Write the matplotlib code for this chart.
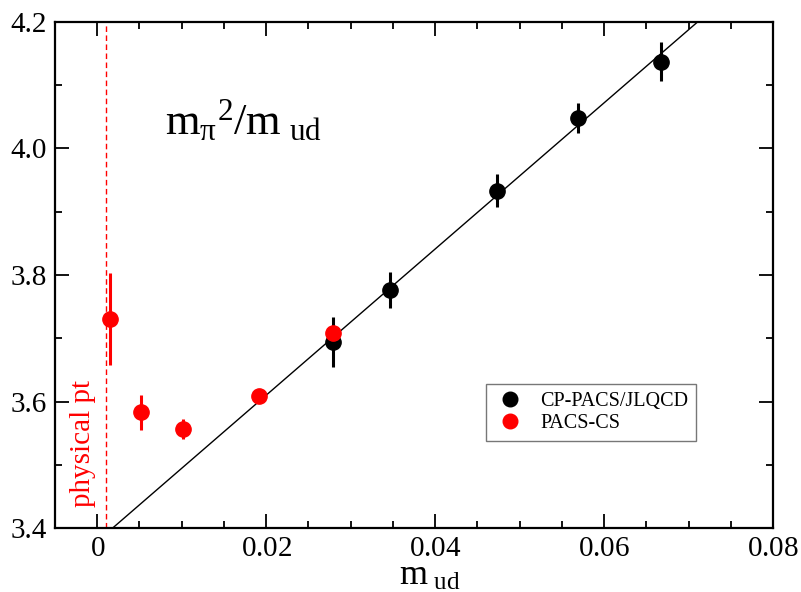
import matplotlib
matplotlib.use('Agg')
import matplotlib.pyplot as plt
from matplotlib.lines import Line2D
from matplotlib.ticker import MultipleLocator, FuncFormatter

# CP-PACS/JLQCD points
cp_x = [0.0279, 0.0346, 0.0473, 0.0569, 0.0667]
cp_y = [3.694, 3.776, 3.933, 4.048, 4.137]
cp_err = [0.040, 0.028, 0.026, 0.024, 0.031]

# PACS-CS points
cs_x = [0.0015, 0.0052, 0.0101, 0.0191, 0.0279]
cs_y = [3.730, 3.583, 3.557, 3.609, 3.708]
cs_err = [0.073, 0.028, 0.016, 0.007, 0.010]

# linear fit through the heavy points
fit_a = 3.379
fit_b = 11.55
fit_x = [-0.005, 0.08]

phys_x = 0.001


def xfmt(v, pos):
    s = '0' if abs(v) < 1e-9 else '%.2f' % v
    return r'$\mathrm{%s}$' % s


def main():
    plt.rcParams['font.family'] = ['Liberation Serif', 'DejaVu Serif']
    plt.rcParams['mathtext.fontset'] = 'custom'
    plt.rcParams['mathtext.rm'] = 'Liberation Serif'
    plt.rcParams['mathtext.it'] = 'Liberation Serif'
    plt.rcParams['mathtext.bf'] = 'Liberation Serif:bold'

    fig = plt.figure(figsize=(8.01, 5.92), dpi=100)
    ax = fig.add_axes([0.0687, 0.108, 0.8963, 0.855])

    ax.plot(fit_x, [fit_a + fit_b * x for x in fit_x], color='black', lw=1.0, zorder=2)
    ax.axvline(phys_x, color='red', ls=(0, (4, 2.5)), lw=1.0, zorder=1)

    ax.errorbar(cp_x, cp_y, yerr=cp_err, fmt='o', color='black', ms=11,
                elinewidth=2.2, capsize=0, zorder=3)
    ax.errorbar(cs_x, cs_y, yerr=cs_err, fmt='o', color='red', ms=11,
                elinewidth=2.2, capsize=0, zorder=4)

    ax.set_xlim(-0.005, 0.08)
    ax.set_ylim(3.4, 4.2)
    ax.xaxis.set_major_locator(MultipleLocator(0.02))
    ax.xaxis.set_minor_locator(MultipleLocator(0.005))
    ax.yaxis.set_major_locator(MultipleLocator(0.2))
    ax.yaxis.set_minor_locator(MultipleLocator(0.1))
    ax.xaxis.set_major_formatter(FuncFormatter(xfmt))
    ax.yaxis.set_major_formatter(FuncFormatter(lambda v, p: '%.1f' % v))
    ax.tick_params(which='both', direction='in', top=True, right=True, width=1.3)
    ax.tick_params(which='major', length=10, labelsize=21, pad=6)
    ax.tick_params(axis='x', which='major', pad=6)
    ax.tick_params(which='minor', length=5)
    for s in ax.spines.values():
        s.set_linewidth(1.6)

    ax.set_xlabel(r'$\mathrm{m_{\ ud}}$', fontsize=26, labelpad=-2, x=0.522)

    ax.text(0.153, 0.777, r'$\mathrm{m_{\pi}{}^{2}/m_{\ ud}}$', transform=ax.transAxes,
            fontsize=32, va='baseline')
    ax.text(-0.0002, 3.433, 'physical pt', color='red', rotation=90, fontsize=21,
            ha='right', va='bottom')

    handles = [Line2D([], [], ls='none', marker='o', color='black', ms=10.5),
               Line2D([], [], ls='none', marker='o', color='red', ms=10.5)]
    leg = ax.legend(handles, ['CP-PACS/JLQCD', 'PACS-CS'], loc='upper left',
                    bbox_to_anchor=(0.6, 0.285), borderaxespad=0, fontsize=14.5,
                    frameon=True, fancybox=False, edgecolor='#555555',
                    handletextpad=0.7, borderpad=0.4, labelspacing=0.15,
                    handlelength=1.6)
    leg.get_frame().set_linewidth(1.0)

    plt.savefig('out.png', dpi=100)


if __name__ == "__main__":
    main()
